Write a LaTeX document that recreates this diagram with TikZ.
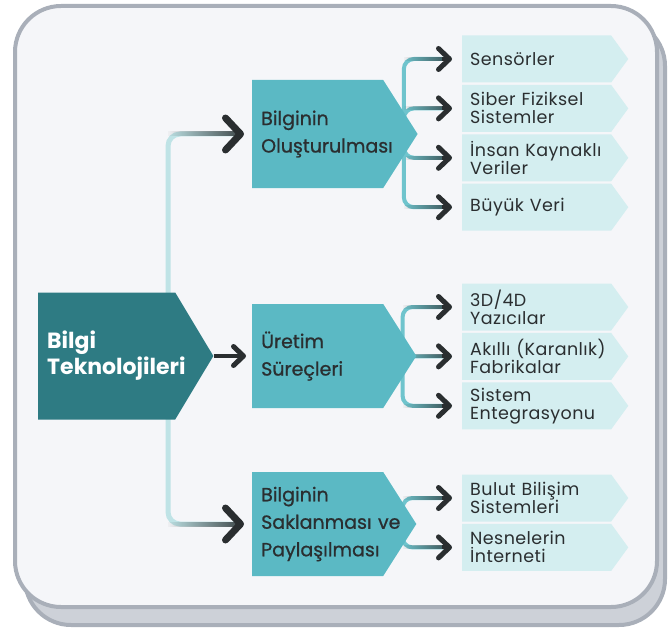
\documentclass[tikz,border=0pt]{standalone}
\usepackage{fontspec}
\setmainfont{Poppins}
\newfontfamily\midfont[FakeBold=0.8]{Poppins}
\newfontfamily\leaffont[LetterSpace=2.5]{Poppins}
\usetikzlibrary{shapes.symbols, arrows.meta, positioning, fadings, calc}
\hyphenpenalty=10000
\exhyphenpenalty=10000
\hbadness=10000
\hfuzz=100pt

\definecolor{frameline}{HTML}{A9AFB9}
\definecolor{frameshade}{HTML}{CDD1D8}
\definecolor{paper}{HTML}{F5F6F9}
\definecolor{rootteal}{HTML}{2E7B83}
\definecolor{stepteal}{HTML}{5BB9C4}
\definecolor{leafteal}{HTML}{D4EEF0}
\definecolor{inkdark}{HTML}{2A2E30}
\definecolor{trunkpale}{HTML}{BFE3E6}
\definecolor{twigteal}{HTML}{6FC4CD}

\pgfdeclarelayer{back}
\pgfdeclarelayer{links}
\pgfsetlayers{back,links,main}

\tikzstyle{root} = [signal, signal to=east, signal pointer angle=118, fill=rootteal, text=white, minimum height=127pt, text width=119pt, inner xsep=9pt, align=left, font=\fontsize{22}{26}\selectfont\bfseries]
\tikzstyle{stage} = [signal, signal to=east, signal pointer angle=115, fill=stepteal, text=inkdark, text width=113pt, inner xsep=9pt, align=left, font=\midfont\fontsize{19}{27.5}\selectfont]
\tikzstyle{leaf} = [signal, signal to=east, signal pointer angle=108, fill=leafteal, text=inkdark, minimum height=47pt, text width=133pt, inner xsep=8pt, inner ysep=1pt, align=left, font=\leaffont\fontsize{17.5}{18}\selectfont]
\tikzstyle{trunk} = [draw=trunkpale, line width=5pt, rounded corners=12pt]
\tikzstyle{twig} = [draw=twigteal, line width=4pt, rounded corners=10pt]
\tikzstyle{flow} = [draw=inkdark, path fading=west]
\tikzstyle{bigtip} = [draw=inkdark, line width=5pt, -{Straight Barb[length=15pt, width=32pt, line width=7pt, round]}]
\tikzstyle{midtip} = [draw=inkdark, line width=4pt, -{Straight Barb[length=10pt, width=19pt, line width=5pt, round]}]
\tikzstyle{smalltip} = [draw=inkdark, line width=4pt, -{Straight Barb[length=11pt, width=21pt, line width=5pt, round]}]

\begin{document}
\begin{tikzpicture}[x=1pt, y=-1pt]
	\useasboundingbox (0,0) rectangle (668,631);
	\begin{pgfonlayer}{back}
		\draw[frameline, line width=4pt, fill=frameshade, rounded corners=46pt] (25,20) rectangle (665,625);
		\draw[frameline, line width=4pt, fill=paper, rounded corners=46pt] (15,6) rectangle (657,607);
	\end{pgfonlayer}

	\node[root, anchor=west] (bilgi) at (38,356) {Bilgi\\Teknolojileri};

	\node[stage, anchor=west, minimum height=108pt] (olus) at (252,134) {Bilginin\\Oluşturulması};
	\node[stage, anchor=west, minimum height=104pt] (uretim) at (252,356) {Üretim\\Süreçleri};
	\node[stage, anchor=west, minimum height=104pt] (sakla) at (252,524) {Bilginin\\Saklanması~ve\\Paylaşılması};

	\node[leaf, anchor=west] (sens) at (462,59) {Sensörler};
	\node[leaf, below=2pt of sens] (siber) {Siber~Fiziksel\\Sistemler};
	\node[leaf, below=2pt of siber] (insan) {İnsan~Kaynaklı\\Veriler};
	\node[leaf, below=2pt of insan] (buyuk) {Büyük Veri};

	\node[leaf, anchor=west] (yazici) at (462,307) {3D/4D\\Yazıcılar};
	\node[leaf, below=2pt of yazici] (akilli) {Akıllı~(Karanlık)\\Fabrikalar};
	\node[leaf, below=2pt of akilli] (sistem) {Sistem\\Entegrasyonu};

	\node[leaf, anchor=west] (bulut) at (462,498) {Bulut~Bilişim\\Sistemleri};
	\node[leaf, below=2pt of bulut] (nesne) {Nesnelerin\\İnterneti};

	\begin{pgfonlayer}{links}
		% root to stages
		\coordinate (hub) at ($(bilgi.west)+(130,0)$);
		\foreach \stage in {olus,sakla} {
			\path[trunk, shorten >=9pt] (hub) |- (\stage.west);
			\path[flow, line width=5pt, shorten >=9pt] (hub |- \stage.west) -- (\stage.west);
			\path[bigtip, shorten >=8pt] ($(\stage.west)+(-16,0)$) -- (\stage.west);
		}
		\path[midtip, shorten >=6pt] (bilgi.east) -- (uretim.west);

		% stages to leaves
		\foreach \stage/\kids in {olus/{sens,siber,insan,buyuk}, uretim/{yazici,akilli,sistem}, sakla/{bulut,nesne}} {
			\coordinate (fork) at ($(\stage.east)+(-14,0)$);
			\foreach \kid in \kids {
				\path[twig, shorten >=11pt] (fork) |- (\kid.west);
				\path[flow, line width=4pt, shorten >=11pt] (fork |- \kid.west) -- (\kid.west);
				\path[smalltip, shorten >=10pt] ($(\kid.west)+(-20,0)$) -- (\kid.west);
			}
		}
	\end{pgfonlayer}
\end{tikzpicture}
\end{document}
